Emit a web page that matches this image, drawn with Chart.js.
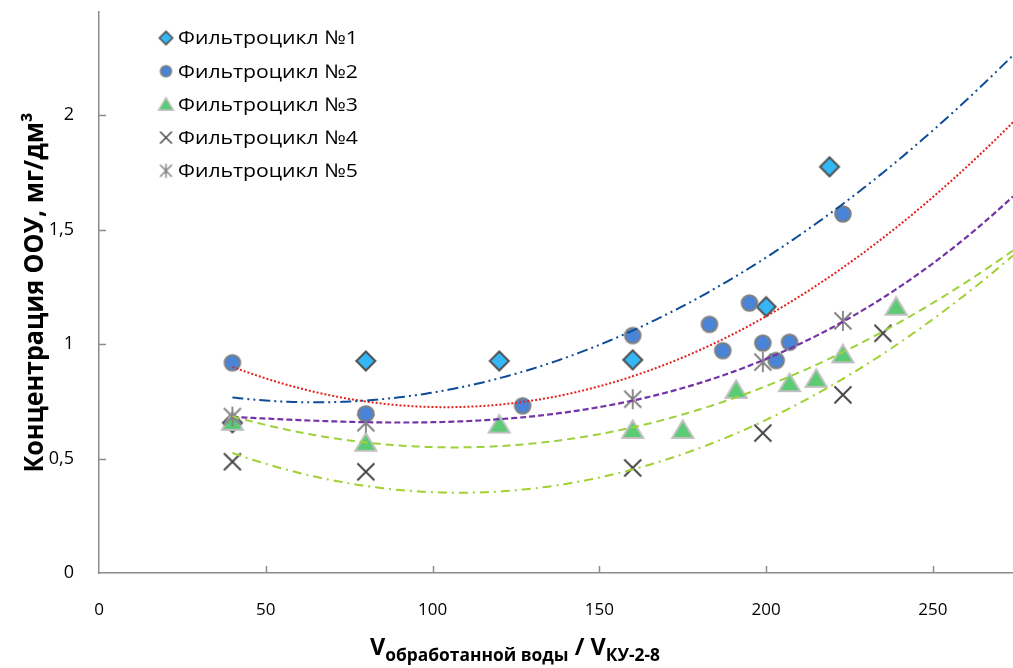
<!DOCTYPE html>
<html><head><meta charset="utf-8">
<script src="https://cdn.jsdelivr.net/npm/chart.js@4.4.1/dist/chart.umd.min.js"></script>
<style>
html,body{margin:0;padding:0;background:#fff;}
#wrap{position:relative;width:1013px;height:668px;overflow:hidden;}
#xt{position:absolute;left:370px;top:635px;font-family:"Open Sans",sans-serif;font-weight:bold;font-size:23px;line-height:23px;color:#000;white-space:nowrap;transform-origin:0 0;}
#xt sub{font-size:17px;vertical-align:-6px;line-height:0;}
</style></head><body>
<div id="wrap"><canvas id="c" width="1013" height="668"></canvas>
<div id="xt">V<sub>обработанной воды</sub> / V<sub>КУ-2-8</sub></div></div>
<script>
// ---- data ----
const names = ["Фильтроцикл №1","Фильтроцикл №2","Фильтроцикл №3","Фильтроцикл №4","Фильтроцикл №5"];
const x1 = [40, 80, 120, 160, 200, 219];
const y1 = [0.656, 0.926, 0.926, 0.931, 1.163, 1.774];
const x2 = [40, 80, 127, 160, 183, 187, 195, 199, 203, 207, 223];
const y2 = [0.918, 0.695, 0.730, 1.037, 1.086, 0.971, 1.179, 1.004, 0.928, 1.008, 1.568];
const x3 = [40, 80, 120, 160, 175, 191, 207, 215, 223, 239];
const y3 = [0.660, 0.569, 0.648, 0.625, 0.625, 0.800, 0.829, 0.848, 0.955, 1.163];
const x4 = [40, 80, 160, 199, 223, 235];
const y4 = [0.486, 0.442, 0.459, 0.611, 0.778, 1.047];
const x5 = [40, 80, 160, 199, 223];
const y5 = [0.683, 0.656, 0.759, 0.921, 1.101];
const trendOrder = [2, 2, 2, 2, 3];
const xTicks = [0, 50, 100, 150, 200, 250];
const yTicks = [0, 0.5, 1, 1.5, 2];
const X_MAX = 274, Y_MAX = 2.45;
const yTitle = 'Концентрация ООУ, мг/дм³';

// ---- markers ----
function mk(type, s){
  const size = Math.ceil(26*s)+2, c = size/2;
  const cv = document.createElement('canvas'); cv.width = size; cv.height = size;
  const g = cv.getContext('2d'); g.lineJoin='miter';
  const lw = 2*Math.max(s,0.8);
  if(type==='diamond'){ const r=9.5*s; g.beginPath(); g.moveTo(c,c-r); g.lineTo(c+r,c); g.lineTo(c,c+r); g.lineTo(c-r,c); g.closePath(); g.fillStyle='#35B6F5'; g.fill(); g.lineWidth=lw; g.strokeStyle='#505050'; g.stroke(); }
  if(type==='circle'){ g.beginPath(); g.arc(c,c,7.8*s,0,Math.PI*2); g.fillStyle='#4A84D6'; g.fill(); g.lineWidth=lw; g.strokeStyle='#7F7F7F'; g.stroke(); }
  if(type==='tri'){ g.beginPath(); g.moveTo(c,c-9.5*s); g.lineTo(c+10.5*s,c+8*s); g.lineTo(c-10.5*s,c+8*s); g.closePath(); g.fillStyle='#5BCB74'; g.fill(); g.lineWidth=lw; g.strokeStyle='#BFBFBF'; g.stroke(); }
  if(type==='x'){ const r=8.5*s; g.beginPath(); g.moveTo(c-r,c-r); g.lineTo(c+r,c+r); g.moveTo(c+r,c-r); g.lineTo(c-r,c+r); g.lineWidth=1.8*Math.max(s,0.8); g.strokeStyle='#404040'; g.stroke(); }
  if(type==='star'){ const r=8.5*s; g.beginPath(); g.moveTo(c-r,c-r); g.lineTo(c+r,c+r); g.moveTo(c+r,c-r); g.lineTo(c-r,c+r); g.moveTo(c,c-10*s); g.lineTo(c,c+10*s); g.lineWidth=1.8*Math.max(s,0.8); g.strokeStyle='#808080'; g.stroke(); }
  return cv;
}
const types = ['diamond','circle','tri','x','star'];
const ptImgs = types.map(t=>mk(t,1));
const lgImgs = types.map(t=>mk(t,0.7));
const drawOrder = [5, 1, 4, 2, 3]; // circles on top, diamonds at the bottom

// least-squares polynomial trendline (as the spreadsheet computes it)
function polyFit(xs, ys, n){
  const m=n+1, A=[], B=[];
  for(let i=0;i<m;i++){ A.push(new Array(m).fill(0)); B.push(0); }
  for(let k=0;k<xs.length;k++){
    for(let i=0;i<m;i++){ B[i]+=Math.pow(xs[k],i)*ys[k]; for(let j=0;j<m;j++) A[i][j]+=Math.pow(xs[k],i+j); }
  }
  for(let i=0;i<m;i++){
    let p=i; for(let r=i+1;r<m;r++) if(Math.abs(A[r][i])>Math.abs(A[p][i])) p=r;
    [A[i],A[p]]=[A[p],A[i]]; [B[i],B[p]]=[B[p],B[i]];
    for(let r=i+1;r<m;r++){ const f=A[r][i]/A[i][i]; for(let j=i;j<m;j++) A[r][j]-=f*A[i][j]; B[r]-=f*B[i]; }
  }
  const c=new Array(m).fill(0);
  for(let i=m-1;i>=0;i--){ let s=B[i]; for(let j=i+1;j<m;j++) s-=A[i][j]*c[j]; c[i]=s/A[i][i]; }
  return c;
}
function trend(xs, ys, n){
  const c=polyFit(xs,ys,n), pts=[];
  for(let x=Math.min(...xs);x<=X_MAX;x+=1){ let y=0; for(let i=c.length-1;i>=0;i--) y=y*x+c[i]; pts.push({x,y}); }
  return pts;
}
const xsAll=[x1,x2,x3,x4,x5], ysAll=[y1,y2,y3,y4,y5];
const trendStyle = [
  {color:'#0E4C97', dash:[11,4,2,4,2,4], w:2},
  {color:'#E3201B', dash:[2,2], w:2},
  {color:'#9DD23C', dash:[8,5], w:2},
  {color:'#A2D030', dash:[9,5,2,5], w:2},
  {color:'#7433A6', dash:[6,3], w:2.2}
];
const ds=[];
for(let i=0;i<5;i++){
  ds.push({label:names[i], data: xsAll[i].map((x,k)=>({x, y:ysAll[i][k]})), pointStyle: ptImgs[i], pointRadius:10, pointHoverRadius:10, showLine:false, order: drawOrder[i], clip:false});
}
for(let i=0;i<5;i++){
  const st=trendStyle[i];
  ds.push({label:'trend'+(i+1), type:'line', data: trend(xsAll[i], ysAll[i], trendOrder[i]), borderColor:st.color, borderWidth:st.w, borderDash:st.dash, pointRadius:0, fill:false, tension:0, order:0, showLine:true});
}

const AX='#8C8C8C';
const fmt = v=>String(v).replace('.',',');
const extras = {
  id:'extras',
  afterDraw(chart){
    const ctx=chart.ctx, xs=chart.scales.x, ys=chart.scales.y, ca=chart.chartArea;
    ctx.save();
    ctx.strokeStyle=AX; ctx.lineWidth=1.5;
    ctx.beginPath();
    xTicks.forEach(v=>{ if(v===0) return; const px=Math.round(xs.getPixelForValue(v))+0.5; ctx.moveTo(px,ca.bottom); ctx.lineTo(px,ca.bottom-7); });
    yTicks.forEach(v=>{ if(v===0) return; const py=Math.round(ys.getPixelForValue(v))+0.5; ctx.moveTo(ca.left,py); ctx.lineTo(ca.left+7,py); });
    ctx.stroke();
    // x tick labels
    ctx.font='17px "Open Sans"'; ctx.fillStyle='#000'; ctx.textAlign='center'; ctx.textBaseline='middle';
    xTicks.forEach(v=>{ ctx.fillText(fmt(v), xs.getPixelForValue(v), ca.bottom+37); });
    // y title
    ctx.save();
    ctx.font='bold 26px "Open Sans"'; ctx.fillStyle='#000'; ctx.textAlign='center'; ctx.textBaseline='alphabetic';
    const tw=ctx.measureText(yTitle).width;
    ctx.translate(43,(ca.top+ca.bottom)/2); ctx.rotate(-Math.PI/2); ctx.scale(360/tw,1);
    ctx.fillText(yTitle,0,0);
    ctx.restore();
    // legend
    ctx.font='19px "Open Sans"'; ctx.fillStyle='#000'; ctx.textBaseline='middle'; ctx.textAlign='left';
    for(let i=0;i<5;i++){
      const cy=38+33.2*i, img=lgImgs[i];
      ctx.drawImage(img, 166-img.width/2, cy-img.height/2);
      const w=ctx.measureText(names[i]).width;
      ctx.save(); ctx.translate(178,cy+1); ctx.scale(180/w,1); ctx.fillText(names[i],0,0); ctx.restore();
    }
    ctx.restore();
  }
};

function zeroPad(s){
  s.paddingLeft=0; s.paddingRight=0; s.paddingTop=0; s.paddingBottom=0;
}

new Chart(document.getElementById('c'), {
  type:'scatter',
  data:{datasets:ds},
  options:{
    responsive:false, animation:false,
    layout:{autoPadding:false, padding:{top:12,right:0,left:0,bottom:0}},
    plugins:{legend:{display:false}, tooltip:{enabled:false}},
    scales:{
      x:{type:'linear', min:0, max:X_MAX,
        afterFit(s){ s.height=95; zeroPad(s); },
        afterBuildTicks(s){ s.ticks = xTicks.map(v=>({value:v})); },
        grid:{display:false, drawTicks:false},
        border:{display:true, color:AX, width:1.5},
        ticks:{display:false}
      },
      y:{type:'linear', min:0, max:Y_MAX,
        afterFit(s){ s.width=99; zeroPad(s); },
        afterBuildTicks(s){ s.ticks = yTicks.map(v=>({value:v})); },
        grid:{display:false, drawTicks:false},
        border:{display:true, color:AX, width:1.5},
        ticks:{padding:25, color:'#000', font:{family:'"Open Sans"', size:18}, callback:fmt}
      }
    }
  },
  plugins:[extras]
});
const xt=document.getElementById('xt');
xt.style.transform='scaleX('+(290/xt.offsetWidth)+')';
</script>
</body></html>
